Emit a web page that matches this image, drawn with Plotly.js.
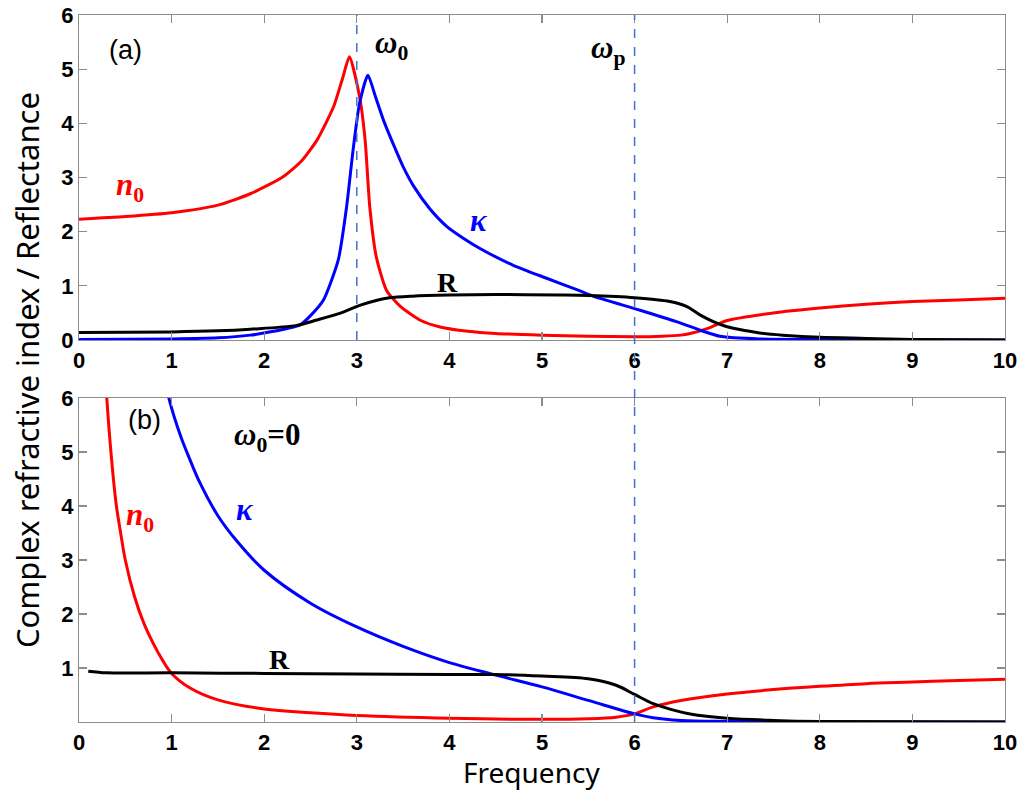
<!DOCTYPE html>
<html>
<head>
<meta charset="utf-8">
<script src="https://cdn.plot.ly/plotly-3.0.1.min.js"></script>
<style>html,body{margin:0;padding:0;background:#fff;}#chart{width:1031px;height:791px;}</style>
</head>
<body>
<div id="chart"></div>
<script>
// ---- Panel (a) data ----
const topN0X = [0,0.5,1,1.5,1.85,2.2,2.4,2.57,2.75,2.85,2.92,3.03,3.09,3.14,3.21,3.32,3.47,3.68,3.9,4.2,4.5,5,5.5,6,6.3,6.5,6.6,6.8,7,7.5,8,8.5,9,9.5,10];
const topN0Y = [2.23,2.28,2.35,2.49,2.70,3.01,3.30,3.69,4.31,4.85,5.23,4.49,3.69,2.46,1.54,0.92,0.62,0.37,0.24,0.16,0.12,0.09,0.07,0.06,0.07,0.09,0.12,0.22,0.36,0.50,0.59,0.66,0.71,0.74,0.77];
const topKX = [0,1,1.5,1.85,2.1,2.39,2.5,2.64,2.8,2.89,2.96,3.03,3.12,3.2,3.29,3.41,3.5,3.61,3.79,3.97,4.15,4.33,4.69,5.05,5.39,5.55,6.06,6.45,6.71,6.92,7.35,8,10];
const topKY = [0.01,0.02,0.04,0.09,0.16,0.28,0.45,0.74,1.48,2.46,3.51,4.37,4.89,4.50,4.05,3.55,3.20,2.85,2.42,2.10,1.88,1.69,1.38,1.14,0.92,0.81,0.55,0.34,0.18,0.07,0.02,0.01,0.0];
const topRX = [0,1,1.5,1.85,2.35,2.57,2.86,3.03,3.21,3.35,3.6,4,4.5,5.19,5.5,6,6.38,6.56,6.71,6.85,6.99,7.21,7.35,7.6,8,8.5,9,10];
const topRY = [0.14,0.15,0.17,0.20,0.27,0.37,0.52,0.64,0.73,0.78,0.81,0.83,0.84,0.83,0.82,0.78,0.71,0.62,0.46,0.34,0.25,0.17,0.13,0.09,0.05,0.03,0.01,0.0];

// ---- Panel (b) data ----
const botN0X = [0.28,0.3,0.35,0.4,0.45,0.5,0.6,0.7,0.8,0.9,1.0,1.2,1.5,2,2.5,3,4,5,5.5,5.8,6,6.2,6.5,7,7.5,8,8.5,9,9.5,10];
const botN0Y = [6.6,6.0,4.9,4.05,3.5,3.0,2.32,1.83,1.46,1.15,0.9,0.63,0.41,0.24,0.17,0.12,0.07,0.05,0.06,0.09,0.15,0.28,0.40,0.52,0.60,0.66,0.71,0.74,0.77,0.79];
const botKX = [0.9,0.97,1.1,1.2,1.3,1.5,1.7,2,2.5,3,3.5,4,4.5,5,5.5,6,6.2,6.5,7,8,10];
const botKY = [6.6,6.0,5.28,4.85,4.45,3.82,3.36,2.81,2.2,1.76,1.40,1.10,0.87,0.65,0.40,0.15,0.08,0.03,0.01,0.0,0.0];
const botRX = [0.1,0.3,1,2,3,4,4.5,5,5.5,5.8,6,6.2,6.4,6.6,7,7.5,8,10];
const botRY = [0.94,0.91,0.91,0.90,0.89,0.88,0.88,0.85,0.80,0.68,0.51,0.34,0.23,0.15,0.07,0.03,0.01,0.0];

// ---- markers / ticks ----
const omega0 = 3;
const omegaP = 6;
const xTicks = [0,1,2,3,4,5,6,7,8,9,10];
const yTicksTop = [0,1,2,3,4,5,6];
const yTicksBot = [1,2,3,4,5,6];

const RED = '#ff0000', BLUE = '#0000ff', BLACK = '#000000';
const LW = 3;
function tr(x, y, c, xa, ya, sm) {
  return {x: x, y: y, type: 'scatter', mode: 'lines',
    line: {color: c, width: LW, shape: 'spline', smoothing: sm}, xaxis: xa, yaxis: ya, hoverinfo: 'skip'};
}
const data = [
  tr(topN0X, topN0Y, RED, 'x', 'y', 0.6),
  tr(topKX, topKY, BLUE, 'x', 'y', 0.6),
  tr(topRX, topRY, BLACK, 'x', 'y', 0.9),
  tr(botN0X, botN0Y, RED, 'x2', 'y2', 1.0),
  tr(botKX, botKY, BLUE, 'x2', 'y2', 1.0),
  tr(botRX, botRY, BLACK, 'x2', 'y2', 0.9)
];

const bold = v => v.map(t => '<b>' + t + '</b>');
const tickFont = {family: 'Liberation Sans, Arial, sans-serif', size: 22, color: '#000'};
const axBase = {
  showgrid: false, zeroline: false, showline: true, linecolor: '#8c8c8c', linewidth: 1.2,
  mirror: 'ticks', ticks: 'inside', ticklen: 8, tickwidth: 1.2, tickcolor: '#8c8c8c',
  tickfont: tickFont, fixedrange: true, tickmode: 'array'
};
const topDom = [0.5403, 1];
const botDom = [0, 0.4583];

const serif = 'Liberation Serif, Times New Roman, serif';
function ann(text, x, y, xr, yr, color, size, fam) {
  return {text: text, x: x, y: y, xref: xr, yref: yr, showarrow: false,
    font: {family: fam || serif, size: size, color: color}, xanchor: 'center', yanchor: 'middle'};
}

const layout = {
  width: 1031, height: 791,
  margin: {l: 79, r: 26, t: 15, b: 69},
  paper_bgcolor: '#fff', plot_bgcolor: '#fff',
  showlegend: false,
  xaxis: Object.assign({}, axBase, {range: [0, 10], tickvals: xTicks, ticktext: bold(xTicks), anchor: 'y', domain: [0, 1]}),
  yaxis: Object.assign({}, axBase, {range: [0, 6], tickvals: yTicksTop, ticktext: bold(yTicksTop), domain: topDom, anchor: 'x'}),
  xaxis2: Object.assign({}, axBase, {range: [0, 10], tickvals: xTicks, ticktext: bold(xTicks), anchor: 'y2', domain: [0, 1]}),
  yaxis2: Object.assign({}, axBase, {range: [0, 6], tickvals: yTicksBot, ticktext: bold(yTicksBot), domain: botDom, anchor: 'x2'}),
  shapes: [
    {type: 'line', xref: 'x', yref: 'paper', x0: omega0, x1: omega0, y0: topDom[0], y1: topDom[1],
     line: {color: '#4472c4', width: 1.5, dash: 'dash'}},
    {type: 'line', xref: 'x', yref: 'paper', x0: omegaP, x1: omegaP, y0: 0, y1: 1,
     line: {color: '#4472c4', width: 1.5, dash: 'dash'}}
  ],
  annotations: [
    ann('(a)', 0.5, 5.35, 'x', 'y', '#000', 27, 'Liberation Sans, Arial, sans-serif'),
    ann('<b><i>ω</i><sub>0</sub></b>', 3.38, 5.45, 'x', 'y', '#000', 31),
    ann('<b><i>ω</i><sub>p</sub></b>', 5.71, 5.35, 'x', 'y', '#000', 31),
    ann('<b><i>n</i><sub>0</sub></b>', 0.55, 2.82, 'x', 'y', RED, 31),
    ann('<b><i>κ</i></b>', 4.31, 2.2, 'x', 'y', BLUE, 31),
    ann('<b>R</b>', 3.98, 1.07, 'x', 'y', '#000', 28),
    ann('(b)', 0.71, 5.59, 'x2', 'y2', '#000', 27, 'Liberation Sans, Arial, sans-serif'),
    ann('<b><i>ω</i><sub>0</sub>=0</b>', 2.03, 5.28, 'x2', 'y2', '#000', 31),
    ann('<b><i>n</i><sub>0</sub></b>', 0.66, 3.8, 'x2', 'y2', RED, 31),
    ann('<b><i>κ</i></b>', 1.79, 3.93, 'x2', 'y2', BLUE, 31),
    ann('<b>R</b>', 2.17, 1.15, 'x2', 'y2', '#000', 28),
    {text: 'Complex refractive index / Reflectance', xref: 'paper', yref: 'paper', x: -0.056, y: 0.498,
     textangle: -90, showarrow: false, xanchor: 'center', yanchor: 'middle',
     font: {family: 'Noto Sans, Arial, sans-serif', size: 31, color: '#000'}},
    {text: 'Frequency', xref: 'paper', yref: 'paper', x: 0.489, y: -0.071,
     showarrow: false, xanchor: 'center', yanchor: 'middle',
     font: {family: 'Noto Sans, Arial, sans-serif', size: 28, color: '#000'}}
  ]
};

Plotly.newPlot('chart', data, layout, {displayModeBar: false, staticPlot: true});
</script>
</body>
</html>
